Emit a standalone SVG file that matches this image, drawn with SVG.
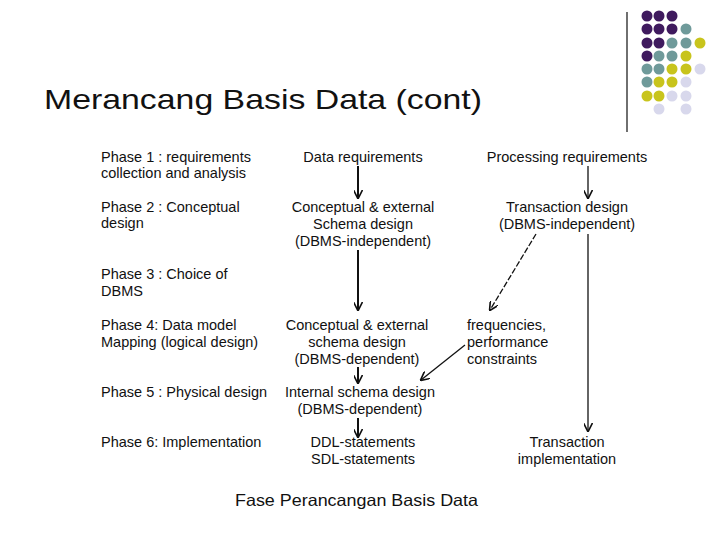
<svg xmlns="http://www.w3.org/2000/svg" width="720" height="540" viewBox="0 0 720 540">
<style>
text{font-family:"Liberation Sans",Arial,sans-serif;fill:#111}
.t{font-size:14.5px}
.c{text-anchor:middle}
.a{stroke:#111;stroke-width:2;fill:none;marker-end:url(#h)}
.b{stroke:#111;stroke-width:1.3;fill:none;marker-end:url(#h)}
.P{fill:#3f1a5e}.T{fill:#6f9a9a}.Y{fill:#c8c41c}.L{fill:#d8d8ec}
</style>
<defs><marker id="h" viewBox="0 0 10 10" refX="9" refY="5" markerWidth="9" markerHeight="9" markerUnits="userSpaceOnUse" orient="auto"><path d="M0,0L10,5L0,10" fill="none" stroke="#111" stroke-width="1.8"/></marker></defs>
<rect width="720" height="540" fill="#fff"/>
<g id="deco">
<line x1="627" y1="12" x2="627" y2="132" stroke="#222" stroke-width="1.3"/>
<g>
<circle class="P" cx="647" cy="16" r="5.5"/><circle class="P" cx="659" cy="16" r="5.5"/><circle class="P" cx="672" cy="16" r="5.5"/>
<circle class="P" cx="647" cy="29" r="5.5"/><circle class="P" cx="659" cy="29" r="5.5"/><circle class="P" cx="672" cy="29" r="5.5"/><circle class="T" cx="686" cy="29" r="5.5"/>
<circle class="P" cx="647" cy="43" r="5.5"/><circle class="P" cx="659" cy="43" r="5.5"/><circle class="T" cx="672" cy="43" r="5.5"/><circle class="T" cx="686" cy="43" r="5.5"/><circle class="Y" cx="700" cy="43" r="5.5"/>
<circle class="P" cx="647" cy="56" r="5.5"/><circle class="T" cx="659" cy="56" r="5.5"/><circle class="T" cx="672" cy="56" r="5.5"/><circle class="Y" cx="686" cy="56" r="5.5"/>
<circle class="T" cx="647" cy="69" r="5.5"/><circle class="T" cx="659" cy="69" r="5.5"/><circle class="Y" cx="672" cy="69" r="5.5"/><circle class="Y" cx="686" cy="69" r="5.5"/><circle class="L" cx="700" cy="69" r="5.5"/>
<circle class="T" cx="647" cy="82" r="5.5"/><circle class="Y" cx="659" cy="82" r="5.5"/><circle class="Y" cx="672" cy="82" r="5.5"/><circle class="L" cx="686" cy="82" r="5.5"/>
<circle class="Y" cx="647" cy="96" r="5.5"/><circle class="Y" cx="659" cy="96" r="5.5"/><circle class="L" cx="672" cy="96" r="5.5"/><circle class="L" cx="686" cy="96" r="5.5"/>
<circle class="L" cx="659" cy="109" r="5.5"/><circle class="L" cx="686" cy="109" r="5.5"/>
</g>
</g>
<text id="title" x="44" y="109" font-size="28" textLength="438" lengthAdjust="spacingAndGlyphs">Merancang Basis Data (cont)</text>
<g id="phases" class="t">
<text x="101" y="162">Phase 1 : requirements</text><text x="101" y="178">collection and analysis</text>
<text x="101" y="212">Phase 2 : Conceptual</text><text x="101" y="228">design</text>
<text x="101" y="279">Phase 3 : Choice of</text><text x="101" y="296">DBMS</text>
<text x="101" y="330">Phase 4: Data model</text><text x="101" y="347">Mapping (logical design)</text>
<text x="101" y="397">Phase 5 : Physical design</text>
<text x="101" y="447">Phase 6: Implementation</text>
</g>
<g id="n1" class="t c"><text x="363" y="162">Data requirements</text></g>
<g id="n2" class="t c"><text x="363" y="212">Conceptual &amp; external</text><text x="363" y="229">Schema design</text><text x="363" y="246">(DBMS-independent)</text></g>
<g id="n3" class="t c"><text x="357" y="330">Conceptual &amp; external</text><text x="357" y="347">schema design</text><text x="357" y="364">(DBMS-dependent)</text></g>
<g id="n4" class="t c"><text x="360" y="397">Internal schema design</text><text x="360" y="414">(DBMS-dependent)</text></g>
<g id="n5" class="t c"><text x="363" y="447">DDL-statements</text><text x="363" y="464">SDL-statements</text></g>
<g id="n6" class="t c"><text x="567" y="162">Processing requirements</text></g>
<g id="n7" class="t c"><text x="567" y="212">Transaction design</text><text x="567" y="229">(DBMS-independent)</text></g>
<g id="n8" class="t"><text x="467" y="330">frequencies,</text><text x="467" y="347">performance</text><text x="467" y="364">constraints</text></g>
<g id="n9" class="t c"><text x="567" y="447">Transaction</text><text x="567" y="464">implementation</text></g>
<g id="connectors">
<path class="a" d="M358,166V198"/>
<path class="a" d="M358,250V310"/>
<path class="a" d="M358,367V383"/>
<path class="a" d="M358,418V437"/>
<path class="b" d="M588,166V198"/>
<path class="b" d="M588,234V431"/>
<path class="b" d="M536,234L490,310" stroke-dasharray="6,2"/>
<path class="b" d="M465,345L421,380"/>
</g>
<text id="caption" x="235" y="506" font-size="16.5" textLength="243" lengthAdjust="spacingAndGlyphs">Fase Perancangan Basis Data</text>
</svg>
